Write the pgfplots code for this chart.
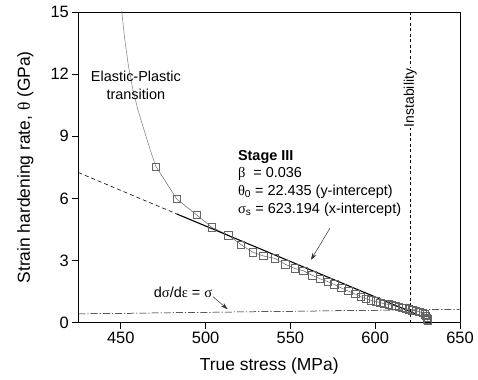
\documentclass[border=0pt]{standalone}
\usepackage{pgfplots}
\pgfplotsset{compat=1.18}
\usepackage{fontspec}
\setmainfont{Liberation Sans}
\newfontfamily\grk{Liberation Serif}
\usetikzlibrary{arrows.meta}
\definecolor{mkgray}{HTML}{656565}
\definecolor{crvgray}{HTML}{8A8A8A}
\begin{document}
\begin{tikzpicture}
\begin{axis}[
  scale only axis, width=381.6bp, height=310.7bp,
  xmin=425, xmax=650, ymin=0, ymax=15,
  xtick={450,500,550,600,650}, ytick={0,3,6,9,12,15},
  xtick pos=left, ytick pos=left,
  tick align=outside, major tick length=6bp,
  tick style={black, line width=0.7pt},
  axis line style={black, line width=0.9pt},
  tick label style={font=\fontsize{16.5}{18}\selectfont},
  /pgf/number format/assume math mode=true,
  every axis x label/.style={at={(axis description cs:0.5,0)}, yshift=-43bp, anchor=center, font=\fontsize{17.5}{20}\selectfont},
  every axis y label/.style={at={(axis description cs:0,0.5)}, xshift=-53bp, rotate=90, anchor=center, font=\fontsize{17.5}{20}\selectfont},
  xlabel={True stress (MPa)},
  ylabel={Strain hardening rate, {\grk θ} (GPa)},
]
% elastic-plastic transition curve
\addplot[crvgray, line width=0.6pt] coordinates {
(449.8,16.5) (450.6,15.0) (452.3,13.7) (454.5,12.4) (457.0,11.3) (460.0,10.3) (464.3,9.15) (467.5,8.3) (470.8,7.53)};
% measured data
\addplot[mkgray, line width=0.5pt, mark=square, mark size=3.7pt, mark options={solid, line width=0.9pt, mkgray}] coordinates {
(470.8,7.53) (483.0,5.97) (494.8,5.20) (503.7,4.60) (513.5,4.22) (521.0,3.76) (527.9,3.40) (534.1,3.22)
(541.0,3.10) (547.0,2.82) (552.5,2.62) (557.8,2.50) (563.0,2.28) (567.5,2.12) (572.0,1.98) (576.0,1.84)
(580.0,1.68) (584.3,1.52) (588.3,1.38) (591.5,1.25) (594.5,1.16) (597.5,1.08) (600.5,1.02) (603.0,0.96)
(605.5,0.92) (608.0,0.88) (610.0,0.84) (612.0,0.80) (614.0,0.76) (616.0,0.72) (618.0,0.68) (620.0,0.64)
(622.0,0.60) (624.0,0.57) (626.0,0.53) (628.0,0.48) (629.5,0.40) (630.0,0.32) (630.5,0.24) (630.8,0.16) (631.0,0.10)};
% Voce fit, extrapolated part dashed
\addplot[black, line width=0.6pt, dash pattern=on 4bp off 3bp] coordinates {(425,7.25) (483,5.25)};
\addplot[black, line width=1.1pt] coordinates {(483,5.25) (629,0.25)};
% dsigma/deps = sigma
\addplot[black, line width=0.5pt, dash pattern=on 7bp off 2bp on 1.2bp off 2bp] coordinates {(425,0.425) (650,0.65)};
% instability
\addplot[black, line width=0.5pt, dash pattern=on 3bp off 2.5bp] coordinates {(620.7,0) (620.7,15)};
\node[rotate=90, fill=white, inner sep=1bp, font=\fontsize{14}{16}\selectfont] at (axis cs:620.7,10.85) {Instability};
% annotations
\node[align=center, font=\fontsize{14.5}{17.6}\selectfont] at (axis cs:458.9,11.46) {Elastic-Plastic\\transition};
\node[anchor=west, align=left, inner sep=0pt, font=\fontsize{14.5}{17.8}\selectfont] at (axis cs:519,6.73)
  {\textbf{Stage III}\\{\grk β}\ \ = 0.036\\{\grk θ}\textsubscript{0} = 22.435 (y-intercept)\\{\grk σ}\textsubscript{s} = 623.194 (x-intercept)};
\draw[-{Stealth[length=7bp,width=4.5bp]}, line width=0.5pt, black!80] (axis cs:573.3,4.56) -- (axis cs:562.1,3.03);
\node[font=\fontsize{14.5}{17}\selectfont] at (axis cs:486.7,1.46) {d{\grk σ}/d{\grk ε} = {\grk σ}};
\draw[-{Stealth[length=7bp,width=4.5bp]}, line width=0.5pt, black!80] (axis cs:504.3,1.26) -- (axis cs:513,0.65);
\end{axis}
\pgfresetboundingbox
\path[use as bounding box] ([xshift=-78.4bp,yshift=-57.3bp]current axis.south west) rectangle ([xshift=18bp,yshift=12bp]current axis.north east);
\end{tikzpicture}
\end{document}
